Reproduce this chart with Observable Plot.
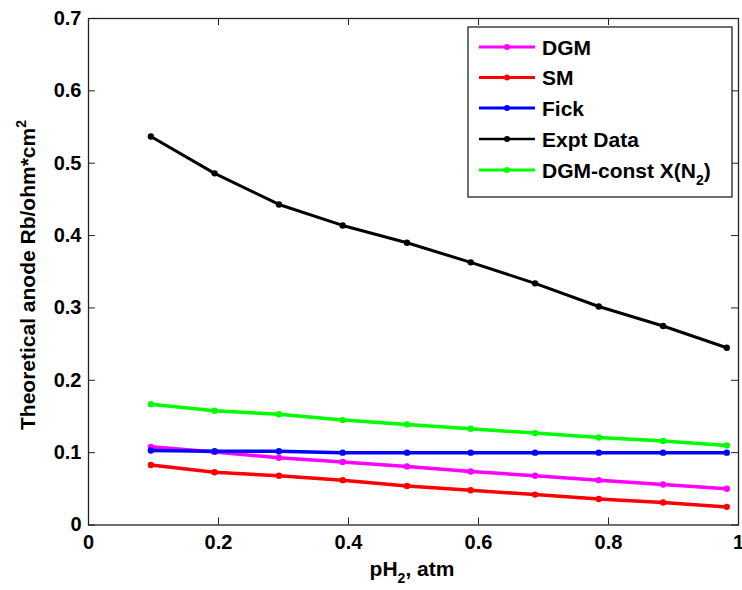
<!DOCTYPE html>
<html><head><meta charset="utf-8">
<script src="https://cdn.jsdelivr.net/npm/d3@7"></script>
<script src="https://cdn.jsdelivr.net/npm/@observablehq/plot@0.6"></script>
<style>body{margin:0;background:#fff} svg{display:block}</style>
</head><body><div id="chart"></div>
<script>
const pH2      = [0.096, 0.194, 0.293, 0.391, 0.490, 0.588, 0.687, 0.785, 0.884, 0.982];
const dgm      = [0.108, 0.101, 0.093, 0.087, 0.081, 0.074, 0.068, 0.062, 0.056, 0.050];
const sm       = [0.083, 0.073, 0.068, 0.062, 0.054, 0.048, 0.042, 0.036, 0.031, 0.025];
const fick     = [0.103, 0.102, 0.102, 0.100, 0.100, 0.100, 0.100, 0.100, 0.100, 0.100];
const expt     = [0.537, 0.486, 0.443, 0.414, 0.390, 0.363, 0.334, 0.302, 0.275, 0.245];
const dgmConst = [0.167, 0.158, 0.153, 0.145, 0.139, 0.133, 0.127, 0.121, 0.116, 0.110];

const seriesNames  = ["DGM", "SM", "Fick", "Expt Data", "DGM-const X(N2)"];
const seriesValues = [dgm, sm, fick, expt, dgmConst];
const seriesColors = ["#ff00ff", "#ff0000", "#0000ff", "#000000", "#00ff00"];
const seriesWidths = [3.5, 3.5, 3.5, 3, 3.5];

const xTicks = [0, 0.2, 0.4, 0.6, 0.8, 1];
const yTicks = [0, 0.1, 0.2, 0.3, 0.4, 0.5, 0.6, 0.7];

const W = 742, H = 590;
const mL = 88, mR = 4, mT = 18, mB = 65.5;
const pw = W - mL - mR, ph = H - mT - mB;
const tk = 7;

const rows = seriesNames.flatMap((name, i) =>
  pH2.map((x, j) => ({series: name, x, y: seriesValues[i][j], color: seriesColors[i]})));

const marks = [];
seriesNames.forEach((name, i) => {
  const d = rows.filter(r => r.series === name);
  marks.push(Plot.line(d, {x: "x", y: "y", stroke: seriesColors[i], strokeWidth: seriesWidths[i]}));
  marks.push(Plot.dot(d, {x: "x", y: "y", r: 3.2, fill: seriesColors[i], stroke: "none"}));
});

const svg = Plot.plot({
  width: W, height: H,
  marginLeft: mL, marginRight: mR, marginTop: mT, marginBottom: mB,
  style: "font-family: 'Liberation Sans', Arial, sans-serif; font-size: 20px; font-weight: bold; background: #fff; overflow: visible;",
  x: {domain: [0, 1], ticks: xTicks, tickSize: 0, tickPadding: 10, tickFormat: d => String(d), label: null},
  y: {domain: [0, 0.7], ticks: yTicks, tickSize: 0, tickPadding: 7, tickFormat: d => String(d), label: null},
  marks: [
    Plot.tickX(xTicks, {x: d => d, insetTop: ph - tk, stroke: "#222", strokeWidth: 1}),
    Plot.tickX(xTicks, {x: d => d, insetBottom: ph - tk, stroke: "#222", strokeWidth: 1}),
    Plot.tickY(yTicks, {y: d => d, insetRight: pw - tk, stroke: "#222", strokeWidth: 1}),
    Plot.tickY(yTicks, {y: d => d, insetLeft: pw - tk, stroke: "#222", strokeWidth: 1}),
    ...marks,
    Plot.frame({stroke: "#222", strokeWidth: 1.3})
  ]
});

const s = d3.select(svg);
// x title
const xt = s.append("text").attr("x", 412).attr("y", 576).attr("text-anchor", "middle")
  .attr("font-size", 21).attr("fill", "#000");
xt.append("tspan").text("pH");
xt.append("tspan").attr("dy", 7).attr("font-size", 14).text("2");
xt.append("tspan").attr("dy", -7).text(", atm");
// y title
const yt = s.append("text").attr("transform", "translate(35,275) rotate(-90)").attr("text-anchor", "middle")
  .attr("font-size", 21).attr("fill", "#000");
yt.append("tspan").text("Theoretical anode Rb/ohm*cm");
yt.append("tspan").attr("dy", -9).attr("font-size", 14).text("2");

// legend
const lg = s.append("g").attr("text-anchor", "start");
lg.append("rect").attr("x", 468).attr("y", 27).attr("width", 264).attr("height", 170)
  .attr("fill", "#fff").attr("stroke", "#222").attr("stroke-width", 1.3);
const ly = [47, 77.5, 108, 139, 170];
seriesNames.forEach((name, i) => {
  const y = ly[i];
  lg.append("line").attr("x1", 479).attr("x2", 535).attr("y1", y).attr("y2", y)
    .attr("stroke", seriesColors[i]).attr("stroke-width", seriesWidths[i] - 0.5);
  lg.append("circle").attr("cx", 507).attr("cy", y).attr("r", 3).attr("fill", seriesColors[i]);
  const t = lg.append("text").attr("x", 542).attr("y", y + 7.5).attr("font-size", 21)
    .attr("text-anchor", "start").attr("fill", "#000");
  if (name === "DGM-const X(N2)") {
    t.append("tspan").text("DGM-const X(N");
    t.append("tspan").attr("dy", 7).attr("font-size", 14).text("2");
    t.append("tspan").attr("dy", -7).text(")");
  } else {
    t.text(name);
  }
});

document.getElementById("chart").appendChild(svg);
</script>
</body></html>
